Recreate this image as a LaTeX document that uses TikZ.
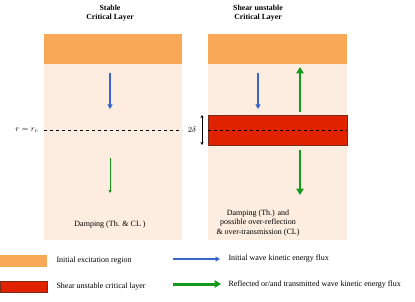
\documentclass[tikz,border=0pt]{standalone}
\usepackage{fontspec}
\setmainfont{Liberation Serif}
\usetikzlibrary{arrows.meta,positioning}
\definecolor{clorange}{HTML}{F9A857}
\definecolor{clpeach}{HTML}{FDECE0}
\definecolor{clred}{HTML}{E02200}
\definecolor{clredline}{HTML}{7A2A1A}
\definecolor{clblue}{HTML}{3A66CC}
\definecolor{clgreen}{HTML}{149A1A}

\tikzset{
  panel/.style={fill=clpeach, draw=none, minimum width=138pt, minimum height=206pt, inner sep=0pt, anchor=north west},
  excite/.style={fill=clorange, draw=none, minimum width=138pt, minimum height=30pt, inner sep=0pt, anchor=north west},
  shearlayer/.style={fill=clred, draw=clredline, line width=0.6pt, minimum width=139pt, minimum height=30pt, inner sep=0pt, anchor=north west},
  title/.style={font=\fontsize{7.8}{9}\selectfont\bfseries, align=center},
  lbl/.style={font=\fontsize{8}{9.6}\selectfont, align=center},
  bluflux/.style={draw=clblue, line width=1.6pt, -{Triangle[length=4.5pt,width=5pt]}},
  grnflux/.style={draw=clgreen, line width=2.6pt, -{Triangle[length=6.5pt,width=7.5pt]}},
  grnweak/.style={draw=clgreen, line width=0.9pt, -{Triangle[length=3pt,width=3pt]}}
}

\begin{document}
\begin{tikzpicture}[x=1pt, y=-1pt]
  \useasboundingbox (0,0) rectangle (415,302);
  % titles
  \node[title] (ttlstable) at (110,13) {Stable\\Critical Layer};
  \node[title] (ttlshear) at (258,13) {Shear unstable\\Critical Layer};
  % panels
  \node[panel] (pnlstable) at (44,34) {};
  \node[panel, minimum width=139pt] (pnlshear) at (208,34) {};
  \node[excite] (exstable) at (44,34) {};
  \node[excite, minimum width=139pt] (exshear) at (208,34) {};
  \node[shearlayer] (layer) at (208,115) {};
  % critical level
  \draw[dashed, line width=0.5pt] (44,130) -- (182,130);
  \draw[dashed, line width=0.5pt] (208,130) -- (347,130);
  \node[font=\fontsize{8}{9}\selectfont, anchor=east] (rcrit) at (42,130) {$r = r_c$};
  \node[font=\fontsize{8}{9}\selectfont] (delta) at (192,130) {$2\delta$};
  \coordinate (dtop) at (202,115);
  \coordinate (dbot) at (202,145);
  \draw[{Stealth[length=3pt,width=3pt]}-{Stealth[length=3pt,width=3pt]}, line width=0.45pt] (dtop) -- (dbot);
  % fluxes, stable side
  \coordinate (sbin) at (110,73);
  \coordinate (sbout) at (110,109);
  \draw[bluflux] (sbin) -- (sbout);
  \coordinate (sgin) at (110,158);
  \coordinate (sgout) at (110,193);
  \draw[grnweak] (sgin) -- (sgout);
  % fluxes, shear side
  \coordinate (ubin) at (258,73);
  \coordinate (ubout) at (258,109);
  \draw[bluflux] (ubin) -- (ubout);
  \coordinate (urin) at (300,112);
  \coordinate (urout) at (300,67);
  \draw[grnflux] (urin) -- (urout);
  \coordinate (utin) at (300,150);
  \coordinate (utout) at (300,195);
  \draw[grnflux] (utin) -- (utout);
  % panel texts
  \node[lbl] (dmpstable) at (110,225) {Damping (Th. \& CL )};
  \node[lbl] (dmpshear) at (258,223) {Damping (Th.) and\\possible over-reflection\\\& over-transmission (CL)};
  % legend
  \node[fill=clorange, minimum width=47pt, minimum height=12pt, inner sep=0pt, anchor=north west] (legex) at (0,255) {};
  \node[lbl, anchor=west] (legextxt) at (53,261) {Initial excitation region};
  \node[fill=clred, draw=clredline, line width=0.6pt, minimum width=47pt, minimum height=11pt, inner sep=0pt, anchor=north west] (leglay) at (0,281) {};
  \node[lbl, anchor=west] (leglaytxt) at (53,287) {Shear unstable critical layer};
  \node[lbl, anchor=west] (legbtxt) at (225,259) {Initial wave kinetic energy flux};
  \node[lbl, anchor=west] (leggtxt) at (225,285) {Reflected or/and transmitted wave kinetic energy flux};
  \coordinate (legbin) at (173,259);
  \coordinate (legbout) at (220,259);
  \coordinate (leggin) at (173,284);
  \coordinate (leggout) at (221,284);
  \draw[bluflux, line width=2pt] (legbin) -- (legbout);
  \draw[grnflux, line width=3pt] (leggin) -- (leggout);
\end{tikzpicture}
\end{document}
